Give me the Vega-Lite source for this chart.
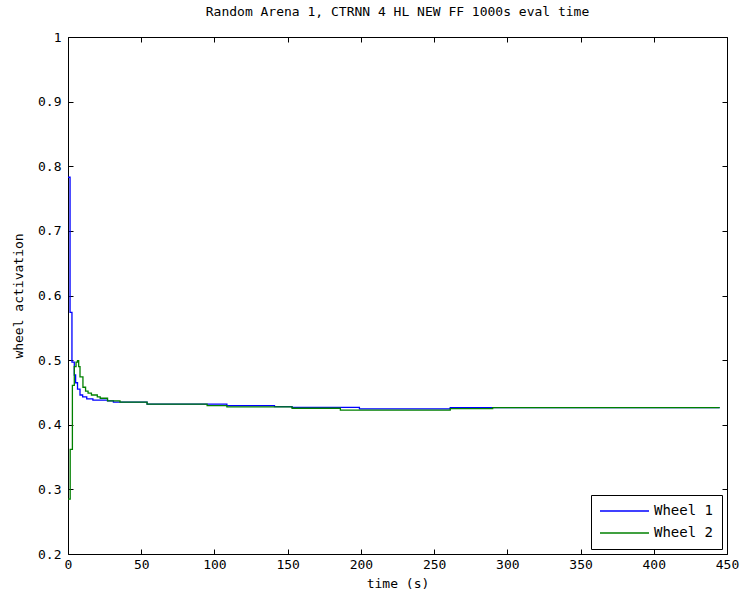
{
  "$schema": "https://vega.github.io/schema/vega-lite/v6.json",
  "autosize": {"type": "none"},
  "padding": {"left": 68, "top": 37, "right": 15, "bottom": 51},
  "width": 659,
  "height": 517,
  "background": "white",
  "title": {"text": "Random Arena 1, CTRNN 4 HL NEW FF 1000s eval time", "font": "DejaVu Sans Mono", "fontSize": 13, "fontWeight": "normal", "color": "black", "offset": 12, "anchor": "middle"},
  "config": {
    "view": {"stroke": "black", "strokeWidth": 1},
    "axis": {"labelFont": "DejaVu Sans Mono", "labelFontSize": 13, "labelColor": "black", "titleFont": "DejaVu Sans Mono", "titleFontSize": 13, "titleFontWeight": "normal", "titleColor": "black", "domainColor": "black", "tickColor": "black", "grid": false}
  },
  "data": {"values": [
    {"t": 0, "v": 0.783, "s": "Wheel 1"},
    {"t": 1.4, "v": 0.574, "s": "Wheel 1"},
    {"t": 2.7, "v": 0.497, "s": "Wheel 1"},
    {"t": 4.3, "v": 0.477, "s": "Wheel 1"},
    {"t": 5.2, "v": 0.465, "s": "Wheel 1"},
    {"t": 6.5, "v": 0.455, "s": "Wheel 1"},
    {"t": 8.2, "v": 0.446, "s": "Wheel 1"},
    {"t": 10, "v": 0.443, "s": "Wheel 1"},
    {"t": 12.8, "v": 0.44, "s": "Wheel 1"},
    {"t": 17, "v": 0.438, "s": "Wheel 1"},
    {"t": 27, "v": 0.437, "s": "Wheel 1"},
    {"t": 31, "v": 0.435, "s": "Wheel 1"},
    {"t": 54, "v": 0.432, "s": "Wheel 1"},
    {"t": 108.5, "v": 0.4295, "s": "Wheel 1"},
    {"t": 141, "v": 0.428, "s": "Wheel 1"},
    {"t": 153, "v": 0.427, "s": "Wheel 1"},
    {"t": 199, "v": 0.4245, "s": "Wheel 1"},
    {"t": 261, "v": 0.4265, "s": "Wheel 1"},
    {"t": 288, "v": 0.4265, "s": "Wheel 1"},
    {"t": 445, "v": 0.4265, "s": "Wheel 1"},
    {"t": 0, "v": 0.285, "s": "Wheel 2"},
    {"t": 1.5, "v": 0.362, "s": "Wheel 2"},
    {"t": 3, "v": 0.461, "s": "Wheel 2"},
    {"t": 4.3, "v": 0.49, "s": "Wheel 2"},
    {"t": 5.5, "v": 0.497, "s": "Wheel 2"},
    {"t": 6.5, "v": 0.499, "s": "Wheel 2"},
    {"t": 7.3, "v": 0.49, "s": "Wheel 2"},
    {"t": 8.2, "v": 0.474, "s": "Wheel 2"},
    {"t": 10.2, "v": 0.458, "s": "Wheel 2"},
    {"t": 12, "v": 0.452, "s": "Wheel 2"},
    {"t": 13.7, "v": 0.449, "s": "Wheel 2"},
    {"t": 16, "v": 0.446, "s": "Wheel 2"},
    {"t": 20, "v": 0.443, "s": "Wheel 2"},
    {"t": 22, "v": 0.441, "s": "Wheel 2"},
    {"t": 27, "v": 0.437, "s": "Wheel 2"},
    {"t": 35.5, "v": 0.435, "s": "Wheel 2"},
    {"t": 54, "v": 0.432, "s": "Wheel 2"},
    {"t": 95, "v": 0.4295, "s": "Wheel 2"},
    {"t": 108.5, "v": 0.4278, "s": "Wheel 2"},
    {"t": 153, "v": 0.4255, "s": "Wheel 2"},
    {"t": 186, "v": 0.4225, "s": "Wheel 2"},
    {"t": 261, "v": 0.425, "s": "Wheel 2"},
    {"t": 290, "v": 0.4265, "s": "Wheel 2"},
    {"t": 445, "v": 0.4265, "s": "Wheel 2"}
  ]},
  "layer": [
    {
      "mark": {"type": "line", "interpolate": "step-after", "strokeWidth": 1.3},
      "encoding": {
        "x": {"field": "t", "type": "quantitative", "scale": {"domain": [0, 450], "nice": false, "zero": false},
              "axis": {"orient": "bottom", "title": "time (s)", "values": [0,50,100,150,200,250,300,350,400,450], "tickSize": -5, "labelPadding": 9, "titlePadding": 6, "domain": false, "labelFlush": false}},
        "y": {"field": "v", "type": "quantitative", "scale": {"domain": [0.2, 1], "nice": false, "zero": false},
              "axis": {"orient": "left", "title": "wheel activation", "values": [0.2,0.3,0.4,0.5,0.6,0.7,0.8,0.9,1], "format": ".1~f", "tickSize": -5, "labelPadding": 12, "titlePadding": 12, "domain": false, "labelFlush": false}},
        "color": {"field": "s", "type": "nominal", "scale": {"domain": ["Wheel 1", "Wheel 2"], "range": ["#0000ff", "#008000"]},
                  "legend": {"title": null, "orient": "bottom-right", "offset": 5, "symbolType": "stroke", "symbolSize": 2400, "symbolStrokeWidth": 1.5, "clipHeight": 16, "labelFont": "DejaVu Sans Mono", "labelFontSize": 14, "labelColor": "black", "labelOffset": 4, "strokeColor": "black", "fillColor": "white", "padding": 8, "rowPadding": 6}}
      }
    },
    {
      "mark": {"type": "line", "opacity": 0},
      "encoding": {
        "x": {"field": "t", "type": "quantitative", "axis": {"orient": "top", "title": null, "labels": false, "values": [0,50,100,150,200,250,300,350,400,450], "tickSize": -5, "domain": false}},
        "y": {"field": "v", "type": "quantitative", "axis": {"orient": "right", "title": null, "labels": false, "values": [0.2,0.3,0.4,0.5,0.6,0.7,0.8,0.9,1], "tickSize": -5, "domain": false}}
      }
    }
  ],
  "resolve": {"axis": {"x": "independent", "y": "independent"}}
}
